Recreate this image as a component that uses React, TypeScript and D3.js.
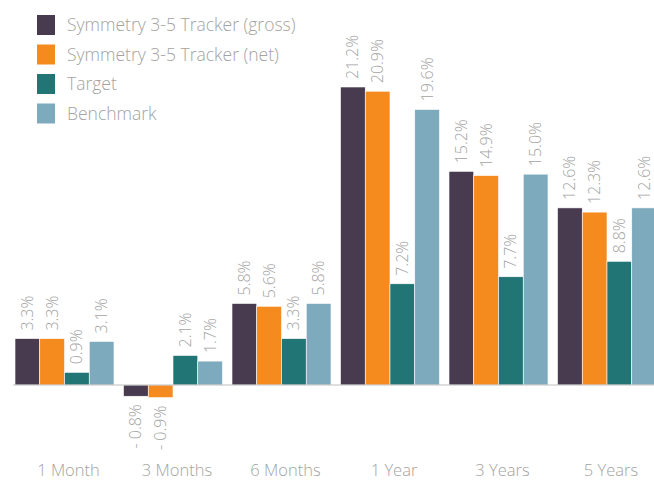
import React from "react";
import * as d3 from "d3";

const categories = ["1 Month", "3 Months", "6 Months", "1 Year", "3 Years", "5 Years"];
const seriesNames = [
  "Symmetry 3-5 Tracker (gross)",
  "Symmetry 3-5 Tracker (net)",
  "Target",
  "Benchmark",
];
const gross = [3.3, -0.8, 5.8, 21.2, 15.2, 12.6];
const net = [3.3, -0.9, 5.6, 20.9, 14.9, 12.3];
const target = [0.9, 2.1, 3.3, 7.2, 7.7, 8.8];
const benchmark = [3.1, 1.7, 5.8, 19.6, 15.0, 12.6];
const colors = ["#483b4f", "#f58a1f", "#217574", "#7eaabd"];

const W = 654;
const H = 482;
const FONT = "'Open Sans', 'DejaVu Sans', sans-serif";
const TEXT = "#a3a3a3";

export default function App() {
  const series = [gross, net, target, benchmark];
  const x0 = d3
    .scaleBand<string>()
    .domain(categories)
    .range([10.25, 661.25])
    .paddingInner(0.0876)
    .paddingOuter(0.0438);
  const x1 = d3
    .scaleBand<number>()
    .domain([0, 1, 2, 3])
    .range([0, x0.bandwidth()]);
  const y = d3.scaleLinear().domain([0, 21.2]).range([385, 87]);

  return (
    <svg
      width={W}
      height={H}
      style={{ position: "absolute", left: 0, top: 0, background: "#fff" }}
      fontFamily={FONT}
      fontWeight={300}
    >
      {/* legend */}
      {seriesNames.map((n, i) => (
        <g key={n} transform={`translate(37, ${15 + i * 29.5})`}>
          <rect width={18} height={20} fill={colors[i]} />
          <text x={30} y={16} fontSize={17.5} fill={TEXT}>
            {n}
          </text>
        </g>
      ))}
      {/* bars */}
      {categories.map((c, ci) => (
        <g key={c} transform={`translate(${x0(c)},0)`}>
          {series.map((s, si) => {
            const v = s[ci];
            const bx = x1(si)!;
            const top = y(Math.max(0, v));
            const h = Math.abs(y(v) - y(0));
            const cx = bx + x1.bandwidth() / 2;
            const label = v < 0 ? `- ${Math.abs(v).toFixed(1)}%` : `${v.toFixed(1)}%`;
            return (
              <g key={si}>
                <rect
                  x={bx}
                  y={top}
                  width={x1.bandwidth()}
                  height={h}
                  fill={colors[si]}
                  stroke="#ffffff"
                  strokeWidth={0.6}
                />
                {v >= 0 ? (
                  <text
                    transform={`translate(${cx + 5.5},${top - 8}) rotate(-90)`}
                    fontSize={16}
                    fill={TEXT}
                    textAnchor="start"
                  >
                    {label}
                  </text>
                ) : (
                  <text
                    transform={`translate(${cx + 5.5},${y(v) + 8}) rotate(-90)`}
                    fontSize={16}
                    fill={TEXT}
                    textAnchor="end"
                  >
                    {label}
                  </text>
                )}
              </g>
            );
          })}
          <text
            x={x0.bandwidth() / 2 + 4}
            y={476}
            fontSize={16.5}
            fill={TEXT}
            textAnchor="middle"
          >
            {c}
          </text>
        </g>
      ))}
      {/* zero line */}
      <line x1={13} x2={W} y1={y(0)} y2={y(0)} stroke="#bfbfbf" strokeWidth={1} />
    </svg>
  );
}
